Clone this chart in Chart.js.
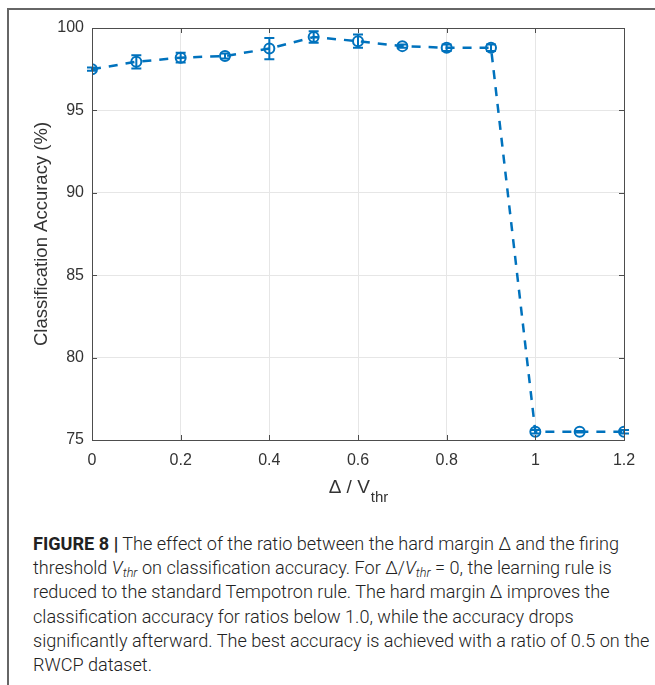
<!DOCTYPE html>
<html>
<head>
<meta charset="utf-8">
<script src="https://cdn.jsdelivr.net/npm/chart.js@4"></script>
<style>
  html, body { margin: 0; padding: 0; background: #fff; }
  #frame {
    position: absolute; left: 7px; top: 8px; width: 648px; height: 677px;
    border-left: 2px solid #666; border-top: 2px solid #666;
  }
  #wrap { position: absolute; left: 0; top: 0; width: 655px; height: 510px; }
  #caption {
    position: absolute; left: 33px; top: 532px;
    font-family: Roboto, "Liberation Sans", sans-serif; font-weight: 300;
    font-size: 18.1px; line-height: 24.2px; color: #222; white-space: nowrap;
  }
  #caption b { font-weight: 700; }
  #caption i { font-style: italic; }
  #caption sub { font-size: 70%; vertical-align: -3px; line-height: 0; }
</style>
</head>
<body>
<div id="frame"></div>
<div id="wrap"><canvas id="myChart" width="655" height="510"></canvas></div>
<div id="caption">
<b>FIGURE 8 |</b> The effect of the ratio between the hard margin Δ and the firing<br>
threshold <i>V<sub>thr</sub></i> on classification accuracy. For Δ/<i>V<sub>thr</sub></i> = 0, the learning rule is<br>
reduced to the standard Tempotron rule. The hard margin Δ improves the<br>
classification accuracy for ratios below 1.0, while the accuracy drops<br>
significantly afterward. The best accuracy is achieved with a ratio of 0.5 on the<br>
RWCP dataset.
</div>
<script>
// data
const ratios = [0, 0.1, 0.2, 0.3, 0.4, 0.5, 0.6, 0.7, 0.8, 0.9, 1.0, 1.1, 1.2];
const accuracy = [97.5, 97.95, 98.2, 98.3, 98.75, 99.45, 99.2, 98.9, 98.8, 98.8, 75.5, 75.5, 75.5];
const errors = [0.1, 0.4, 0.3, 0.15, 0.65, 0.35, 0.4, 0.1, 0.2, 0.2, 0.1, 0.05, 0.1];
const xTicks = [0, 0.2, 0.4, 0.6, 0.8, 1, 1.2];
const yTicks = [75, 80, 85, 90, 95, 100];

const blue = '#0072BD';
const axisCol = '#4d4d4d';
const textCol = '#333';
const fontFam = '"Liberation Sans", Arial, sans-serif';

let ctx = document.getElementById('myChart').getContext('2d');

// error bars
const errorBars = {
  id: 'errorBars',
  afterDatasetsDraw(chart) {
    const c = chart.ctx, xs = chart.scales.x, ys = chart.scales.y;
    c.save();
    c.strokeStyle = blue;
    c.lineWidth = 2;
    c.setLineDash([]);
    for (let i = 0; i < ratios.length; i++) {
      const x = xs.getPixelForValue(ratios[i]);
      const y1 = ys.getPixelForValue(accuracy[i] - errors[i]);
      const y2 = ys.getPixelForValue(accuracy[i] + errors[i]);
      c.beginPath();
      c.moveTo(x, y1); c.lineTo(x, y2);
      c.moveTo(x - 5, y1); c.lineTo(x + 5, y1);
      c.moveTo(x - 5, y2); c.lineTo(x + 5, y2);
      c.stroke();
    }
    c.restore();
  }
};

// box, inward ticks and axis titles (x title needs a subscript)
const boxAxes = {
  id: 'boxAxes',
  afterDraw(chart) {
    const c = chart.ctx, a = chart.chartArea, xs = chart.scales.x, ys = chart.scales.y;
    c.save();
    c.strokeStyle = axisCol;
    c.lineWidth = 1;
    c.strokeRect(a.left + 0.5, a.top + 0.5, a.right - a.left, a.bottom - a.top);
    c.beginPath();
    xTicks.forEach(v => {
      const x = Math.round(xs.getPixelForValue(v)) + 0.5;
      c.moveTo(x, a.bottom); c.lineTo(x, a.bottom - 5);
      c.moveTo(x, a.top); c.lineTo(x, a.top + 5);
    });
    yTicks.forEach(v => {
      const y = Math.round(ys.getPixelForValue(v)) + 0.5;
      c.moveTo(a.left, y); c.lineTo(a.left + 5, y);
      c.moveTo(a.right, y); c.lineTo(a.right - 5, y);
    });
    c.stroke();

    c.fillStyle = textCol;
    c.textBaseline = 'alphabetic';
    c.font = '19px ' + fontFam;
    const main = 'Δ / V';
    const wMain = c.measureText(main).width;
    c.font = '15px ' + fontFam;
    const wSub = c.measureText('thr').width;
    const cx = (a.left + a.right) / 2;
    const x0 = cx - (wMain + wSub) / 2;
    c.textAlign = 'left';
    c.font = '19px ' + fontFam;
    c.fillText(main, x0, 493);
    c.font = '15px ' + fontFam;
    c.fillText('thr', x0 + wMain + 1, 502);

    c.translate(42, (a.top + a.bottom) / 2);
    c.rotate(-Math.PI / 2);
    c.textAlign = 'center';
    c.textBaseline = 'middle';
    c.font = '18.5px ' + fontFam;
    c.fillText('Classification Accuracy (%)', 0, 0);
    c.restore();
  }
};

const data = {
  datasets: [{
    label: 'accuracy',
    data: ratios.map((r, i) => ({ x: r, y: accuracy[i] })),
    borderColor: blue,
    backgroundColor: 'rgba(0,0,0,0)',
    borderWidth: 2.5,
    borderDash: [9, 8],
    pointRadius: 5,
    pointBorderWidth: 2,
    pointBorderColor: blue,
    pointBackgroundColor: 'rgba(0,0,0,0)',
    tension: 0
  }]
};

const config = {
  type: 'line',
  data: data,
  options: {
    responsive: false,
    animation: false,
    layout: { padding: { top: 28, right: 31, left: 0, bottom: 0 } },
    plugins: { legend: { display: false }, tooltip: { enabled: false } },
    scales: {
      x: {
        type: 'linear',
        min: 0, max: 1.2,
        afterBuildTicks: s => { s.ticks = xTicks.map(v => ({ value: v })); },
        afterFit: s => { s.height = 70; },
        grid: { color: '#e6e6e6', drawTicks: false },
        border: { display: false },
        ticks: {
          padding: 11,
          color: textCol,
          font: { family: fontFam, size: 16 },
          callback: v => String(Number(v.toFixed(1)))
        }
      },
      y: {
        min: 75, max: 100,
        afterBuildTicks: s => { s.ticks = yTicks.map(v => ({ value: v })); },
        afterFit: s => { s.width = 92; },
        grid: { color: '#e6e6e6', drawTicks: false },
        border: { display: false },
        ticks: {
          padding: 8,
          color: textCol,
          font: { family: fontFam, size: 16 }
        }
      }
    }
  },
  plugins: [errorBars, boxAxes]
};

let accChart = new Chart(ctx, config);
</script>
</body>
</html>
